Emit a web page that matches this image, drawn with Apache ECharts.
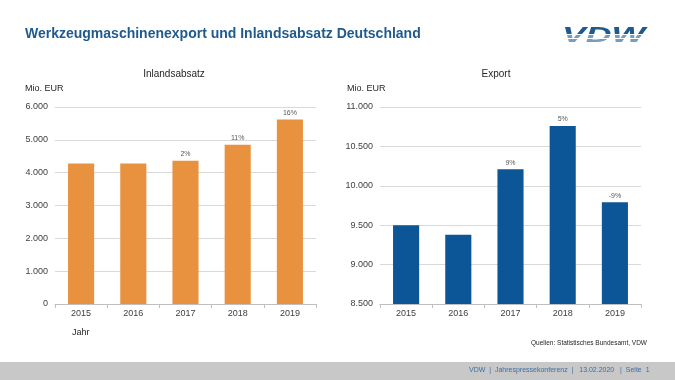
<!DOCTYPE html>
<html>
<head>
<meta charset="utf-8">
<script src="https://cdn.jsdelivr.net/npm/echarts@6/dist/echarts.min.js"></script>
<style>
html,body{margin:0;padding:0;background:#ffffff;}
#c{width:675px;height:380px;}
</style>
</head>
<body>
<div id="c"></div>
<script>
const years = ["2015", "2016", "2017", "2018", "2019"];
const inlandValues = [4280, 4280, 4360, 4850, 5620];
const inlandChange = ["", "", "2%", "11%", "16%"];
const exportValues = [9500, 9380, 10210, 10760, 9790];
const exportChange = ["", "", "9%", "5%", "-9%"];
const inlandTicks = { min: 0, max: 6000, interval: 1000 };
const exportTicks = { min: 8500, max: 11000, interval: 500 };

const FONT = "'Liberation Sans', Arial, sans-serif";
const ORANGE = "#E8913F";
const BLUE = "#0C5596";
const DARKBLUE = "#1F5A8E";

function fmtThousands(v) {
  const s = String(Math.round(v));
  return s.replace(/\B(?=(\d{3})+(?!\d))/g, ".");
}

const chart = echarts.init(document.getElementById('c'), null, { renderer: 'canvas' });

function xAxis(gridIndex) {
  return {
    type: 'category', gridIndex: gridIndex, data: years,
    axisLine: { show: true, lineStyle: { color: '#BFBFBF', width: 1 } },
    axisTick: { show: true, length: 4, lineStyle: { color: '#BFBFBF' } },
    axisLabel: { color: '#404040', fontSize: 9, fontFamily: FONT, margin: 5 }
  };
}
function yAxis(gridIndex, t) {
  return {
    type: 'value', gridIndex: gridIndex, min: t.min, max: t.max, interval: t.interval,
    axisLine: { show: false }, axisTick: { show: false },
    splitLine: { lineStyle: { color: '#D9D9D9', width: 1 } },
    axisLabel: { color: '#404040', fontSize: 9, fontFamily: FONT, margin: 7, formatter: fmtThousands }
  };
}
function barSeries(idx, values, labels, color) {
  return {
    type: 'bar', xAxisIndex: idx, yAxisIndex: idx, data: values, barWidth: '50%',
    itemStyle: { color: color },
    label: {
      show: true, position: 'top', distance: 3, color: '#595959', fontSize: 7, fontFamily: FONT,
      formatter: function (p) { return labels[p.dataIndex]; }
    },
    silent: true
  };
}

const option = {
  backgroundColor: '#ffffff',
  animation: false,
  title: [
    { text: 'Werkzeugmaschinenexport und Inlandsabsatz Deutschland', left: 25, top: 27, padding: 0,
      textStyle: { color: DARKBLUE, fontSize: 14, fontWeight: 'bold', fontFamily: FONT } },
    { text: 'Inlandsabsatz', left: 174, top: 69, textAlign: 'center', padding: 0,
      textStyle: { color: '#262626', fontSize: 10, fontWeight: 'normal', fontFamily: FONT } },
    { text: 'Export', left: 496, top: 69, textAlign: 'center', padding: 0,
      textStyle: { color: '#262626', fontSize: 10, fontWeight: 'normal', fontFamily: FONT } }
  ],
  grid: [
    { left: 55, right: 359, top: 107, bottom: 76 },
    { left: 380, right: 34, top: 107, bottom: 76 }
  ],
  xAxis: [xAxis(0), xAxis(1)],
  yAxis: [yAxis(0, inlandTicks), yAxis(1, exportTicks)],
  series: [
    barSeries(0, inlandValues, inlandChange, ORANGE),
    barSeries(1, exportValues, exportChange, BLUE)
  ],
  graphic: [
    { type: 'text', left: 25, top: 84, style: { text: 'Mio. EUR', fill: '#262626', fontSize: 9, fontFamily: FONT } },
    { type: 'text', left: 347, top: 84, style: { text: 'Mio. EUR', fill: '#262626', fontSize: 9, fontFamily: FONT } },
    { type: 'text', left: 72, top: 328, style: { text: 'Jahr', fill: '#262626', fontSize: 9, fontFamily: FONT } },
    { type: 'text', right: 28, top: 340, style: { text: 'Quellen: Statistisches Bundesamt, VDW', fill: '#262626', fontSize: 6.5, fontFamily: FONT } },
    { type: 'rect', left: 0, top: 362, shape: { width: 675, height: 18 }, style: { fill: '#C8C8C8' } },
    { type: 'text', left: 469, top: 367, style: { text: 'VDW  |  Jahrespressekonferenz  |   13.02.2020   |  Seite  1', fill: '#3A6EA5', fontSize: 7, fontFamily: FONT } },
    { type: 'text', x: 562, y: 25, scaleX: 1.62, style: { text: 'VDW', fill: DARKBLUE, fontSize: 22, fontWeight: 'bold', fontStyle: 'italic', fontFamily: FONT } },
    { type: 'rect', x: 560, y: 34, shape: { width: 95, height: 9 }, style: { fill: 'rgba(255,255,255,0.4)' } },
    { type: 'rect', x: 560, y: 34, shape: { width: 95, height: 1 }, style: { fill: '#ffffff' } },
    { type: 'rect', x: 560, y: 38, shape: { width: 95, height: 1 }, style: { fill: '#ffffff' } }
  ]
};
chart.setOption(option);
</script>
</body>
</html>
